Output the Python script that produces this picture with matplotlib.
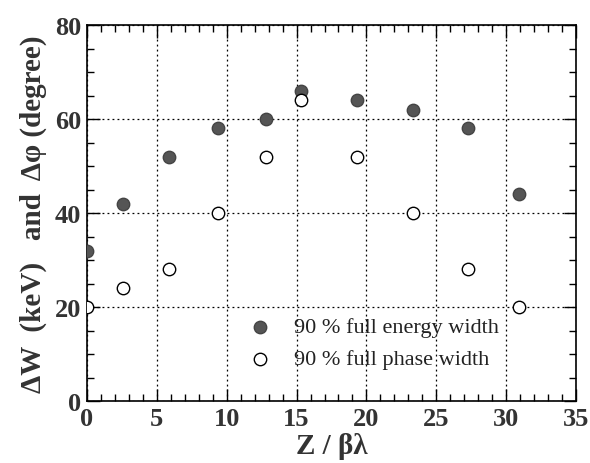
import matplotlib
matplotlib.use('Agg')
import matplotlib.pyplot as plt
from matplotlib.ticker import MultipleLocator

plt.rcParams['font.family'] = ['Liberation Serif', 'DejaVu Serif']

# Data
z = [0, 2.6, 5.9, 9.35, 12.8, 15.3, 19.3, 23.3, 27.3, 30.9]
energy_width = [32, 42, 52, 58, 60, 66, 64, 62, 58, 44]
phase_width = [20, 24, 28, 40, 52, 64, 52, 40, 28, 20]

fig = plt.figure(figsize=(5.9, 4.64), dpi=100)
ax = fig.add_axes([87 / 590, 1 - 402 / 464, (576 - 87) / 590, (402 - 26) / 464])

ax.scatter(z, energy_width, s=80, c='#555555', edgecolors='#444444', zorder=3)
ax.scatter(z, phase_width, s=80, facecolors='white', edgecolors='black', linewidths=1.0, zorder=3)

ax.set_xlim(0, 35)
ax.set_ylim(0, 80)
ax.xaxis.set_major_locator(MultipleLocator(5))
ax.xaxis.set_minor_locator(MultipleLocator(1))
ax.yaxis.set_major_locator(MultipleLocator(20))
ax.yaxis.set_minor_locator(MultipleLocator(5))
ax.tick_params(which='both', direction='in', top=True, right=True)
ax.tick_params(which='major', length=9, width=1)
ax.tick_params(which='minor', length=5, width=1)
ax.tick_params(axis='both', labelsize=19, pad=4)
for lab in ax.get_xticklabels() + ax.get_yticklabels():
    lab.set_fontweight('bold')
    lab.set_color('#333333')
ax.grid(True, which='major', linestyle=(0, (1.5, 2.5)), color='black', linewidth=0.9)
for s in ax.spines.values():
    s.set_linewidth(1.2)

ax.set_xlabel('Z / βλ', fontsize=21, fontweight='bold', color='#333333', labelpad=2)
ax.set_ylabel('ΔW  (keV)   and  Δφ (degree)', fontsize=21, fontweight='bold', color='#333333', labelpad=6)

# legend drawn as markers plus text
ax.scatter([12.36], [15.7], s=80, c='#555555', edgecolors='#444444', zorder=3)
ax.scatter([12.36], [8.9], s=80, facecolors='white', edgecolors='black', linewidths=1.0, zorder=3)
ax.text(14.8, 15.7, '90 % full energy width', fontsize=16, va='center', ha='left', color='#222222')
ax.text(14.8, 8.9, '90 % full phase width', fontsize=16, va='center', ha='left', color='#222222')

fig.savefig('out.png', dpi=100)
